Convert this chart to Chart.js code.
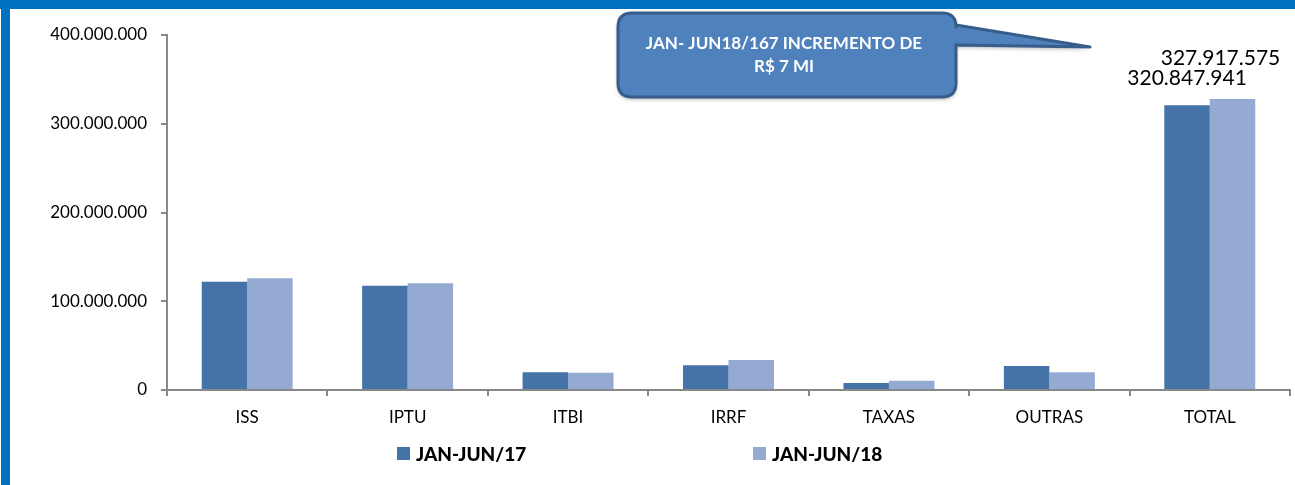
<!DOCTYPE html>
<html>
<head>
<meta charset="utf-8">
<script src="https://cdn.jsdelivr.net/npm/chart.js@4/dist/chart.umd.min.js"></script>
<style>
  html, body { margin: 0; padding: 0; background: #fff; }
  #wrap { position: relative; width: 1295px; height: 485px; overflow: hidden; }
  #cv { position: absolute; left: 0; top: 0; }
  .frame-top { position: absolute; left: 0; top: 0; width: 1295px; height: 9px; background: #0070C0; }
  .frame-left { position: absolute; left: 1px; top: 0; width: 9px; height: 485px; background: #0070C0; }
  #legend { position: absolute; top: 442px; left: 0; width: 1295px; height: 30px; font-family: Lato, "Open Sans", sans-serif; font-weight: 900; font-size: 19px; color: #000; }
  .lg-item { position: absolute; top: 0; white-space: nowrap; }
  .lg-box { display: inline-block; width: 13px; height: 13px; margin-right: 6px; vertical-align: 1px; }
</style>
</head>
<body>
<div id="wrap">
  <canvas id="cv" width="1295" height="485"></canvas>
  <div class="frame-top"></div>
  <div class="frame-left"></div>
  <div id="legend"></div>
</div>
<script>
// categories + values (R$)
const categories = ['ISS', 'IPTU', 'ITBI', 'IRRF', 'TAXAS', 'OUTRAS', 'TOTAL'];
const jan17 = [122000000, 117500000, 19900000, 27800000, 7900000, 27000000, 320847941];
const jan18 = [125800000, 120200000, 19500000, 33800000, 10500000, 19900000, 327917575];
const seriesNames = ['JAN-JUN/17', 'JAN-JUN/18'];
const seriesColors = ['#4572A7', '#95AAD2'];
const yTicks = [0, 100000000, 200000000, 300000000, 400000000];
const calloutLines = ['JAN- JUN18/167 INCREMENTO DE', 'R$ 7 MI'];

const FONT = 'Lato, "Open Sans", sans-serif';
const fmt = (n) => String(Math.round(n)).replace(/\B(?=(\d{3})+(?!\d))/g, '.');

// value labels only on the TOTAL bars
const totalLabels = {
  id: 'totalLabels',
  afterDatasetsDraw(chart) {
    const c = chart.ctx;
    const last = categories.length - 1;
    const offs = [{ dx: 0, dy: -17 }, { dx: -12, dy: -30 }];
    c.save();
    c.font = '21px ' + FONT;
    c.fillStyle = '#000';
    c.textAlign = 'center';
    c.textBaseline = 'bottom';
    chart.data.datasets.forEach((ds, i) => {
      const bar = chart.getDatasetMeta(i).data[last];
      c.fillText(fmt(ds.data[last]), bar.x + offs[i].dx, bar.y + offs[i].dy);
    });
    c.restore();
  }
};

// the speech-bubble annotation
const callout = {
  id: 'callout',
  afterDraw(chart) {
    const c = chart.ctx;
    const x = 618, y = 13, w = 338, h = 84, r = 14;
    const tipX = 1090, tipY = 47;
    c.save();
    c.beginPath();
    c.moveTo(x + r, y);
    c.lineTo(x + w - r, y);
    c.quadraticCurveTo(x + w, y, x + w, y + r);
    c.lineTo(x + w, y + 12);
    c.lineTo(tipX, tipY);
    c.lineTo(x + w, y + 32);
    c.lineTo(x + w, y + h - r);
    c.quadraticCurveTo(x + w, y + h, x + w - r, y + h);
    c.lineTo(x + r, y + h);
    c.quadraticCurveTo(x, y + h, x, y + h - r);
    c.lineTo(x, y + r);
    c.quadraticCurveTo(x, y, x + r, y);
    c.closePath();
    c.shadowColor = 'rgba(0,0,0,0.35)';
    c.shadowBlur = 4;
    c.shadowOffsetY = 2;
    c.fillStyle = '#4F81BD';
    c.fill();
    c.shadowColor = 'transparent';
    c.lineWidth = 3;
    c.lineJoin = 'round';
    c.strokeStyle = '#385D8A';
    c.stroke();
    c.fillStyle = '#fff';
    c.font = 'bold 17px ' + FONT;
    c.textAlign = 'center';
    c.textBaseline = 'middle';
    c.fillText(calloutLines[0], x + w / 2 - 3, 44);
    c.fillText(calloutLines[1], x + w / 2 - 3, 67);
    c.restore();
  }
};

const chart = new Chart(document.getElementById('cv'), {
  type: 'bar',
  data: {
    labels: categories,
    datasets: [
      { label: seriesNames[0], data: jan17, backgroundColor: seriesColors[0] },
      { label: seriesNames[1], data: jan18, backgroundColor: seriesColors[1] },
    ],
  },
  options: {
    responsive: false,
    animation: false,
    events: [],
    layout: { padding: { top: 35, right: 5, bottom: 55, left: 0 } },
    datasets: { bar: { categoryPercentage: 0.567, barPercentage: 1.0 } },
    plugins: { legend: { display: false }, tooltip: { enabled: false } },
    scales: {
      x: {
        grid: { display: true, drawOnChartArea: false, drawTicks: true, tickLength: 6, color: '#888', lineWidth: 2, offset: true },
        border: { display: true, color: '#888', width: 2 },
        ticks: { color: '#000', font: { family: FONT, size: 17 }, padding: 11 },
        afterFit(s) { s.height = 40; },
      },
      y: {
        min: 0,
        max: 400000000,
        afterBuildTicks(s) { s.ticks = yTicks.map((v) => ({ value: v })); },
        grid: { display: true, drawOnChartArea: false, drawTicks: true, tickLength: 6, color: '#888', lineWidth: 2 },
        border: { display: true, color: '#888', width: 2 },
        ticks: { color: '#000', font: { family: FONT, size: 17 }, padding: 14, callback: (v) => fmt(v) },
        afterFit(s) { s.width = 167; },
      },
    },
  },
  plugins: [totalLabels, callout],
});

// html legend from the datasets
const lg = document.getElementById('legend');
const lgLeft = [397, 753];
chart.data.datasets.forEach((ds, i) => {
  const it = document.createElement('div');
  it.className = 'lg-item';
  it.style.left = lgLeft[i] + 'px';
  it.innerHTML = `<span class="lg-box" style="background:${ds.backgroundColor};"></span>${ds.label}`;
  lg.appendChild(it);
});
</script>
</body>
</html>
